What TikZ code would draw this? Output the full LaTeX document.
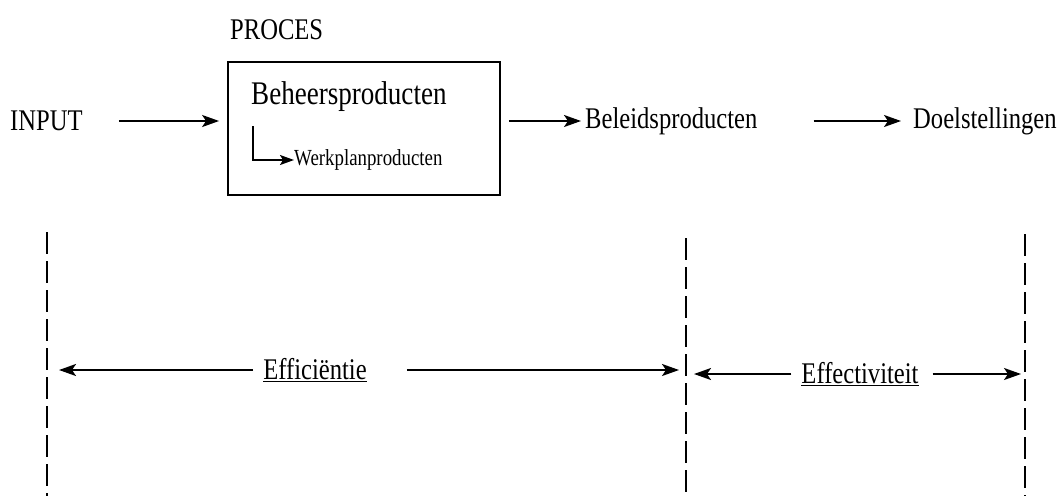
\documentclass[tikz,border=0pt]{standalone}
\usepackage{fontspec}
\setmainfont[FakeStretch=0.82]{Liberation Serif}
\usetikzlibrary{arrows.meta}
\begin{document}
\begin{tikzpicture}[x=1pt,y=-1pt,
  lbl/.style={inner sep=0pt, font=\fontsize{30}{34}\selectfont},
  big/.style={inner sep=0pt, font=\fontsize{33}{37}\selectfont},
  small/.style={inner sep=0pt, font=\fontsize{23}{26}\selectfont},
  arr/.style={line width=2pt, -{Stealth[length=17pt,width=12pt,inset=4pt]}},
  divider/.style={line width=1.4pt, dash pattern=on 22pt off 7pt}]
\useasboundingbox (0,0) rectangle (1064,496);

% top row
\node[lbl, anchor=west] (input) at (10,121) {INPUT};
\node[lbl, anchor=south west] (proces) at (230,40) {PROCES};
\node[draw, line width=1.8pt, minimum width=272pt, minimum height=133pt, inner sep=0pt] (box) at (364,128.5) {};
\node[big, anchor=west] (beheer) at (251,97) {Beheersproducten};
\node[small, anchor=west] (werkplan) at (294,160) {Werkplanproducten};
\node[lbl, anchor=west] (beleid) at (585,121) {Beleidsproducten};
\node[lbl, anchor=west] (doel) at (913,121) {Doelstellingen};

\draw[arr, shorten <=36pt, shorten >=8pt] (input.east) -- (box.west |- input.east);
\draw[arr, shorten <=8pt, shorten >=4pt] (box.east |- beleid.west) -- (beleid.west);
\draw[arr, shorten <=56pt, shorten >=12pt] (beleid.east) -- (doel.west);
\coordinate (lstart) at (253,126);
\draw[line width=1.6pt, -{Stealth[length=14pt,width=10pt,inset=3pt]}] (lstart) |- (werkplan.west);

% dividers
\coordinate (d1t) at (47,232);  \coordinate (d1b) at (47,496);
\coordinate (d2t) at (686,238); \coordinate (d2b) at (686,496);
\coordinate (d3t) at (1025,234); \coordinate (d3b) at (1025,496);
\draw[divider] (d1t) -- (d1b);
\draw[divider] (d2t) -- (d2b);
\draw[divider] (d3t) -- (d3b);

% measures
\node[lbl, anchor=center] (effic) at (315,370) {\underline{Efficiëntie}};
\node[lbl, anchor=center] (effect) at (860,374) {\underline{Effectiviteit}};
\draw[arr, shorten <=10pt, shorten >=12pt] (effic.west) -- (d1t |- effic.west);
\draw[arr, shorten <=40pt, shorten >=7pt] (effic.east) -- (d2t |- effic.east);
\draw[arr, shorten <=10pt, shorten >=8pt] (effect.west) -- (d2t |- effect.west);
\draw[arr, shorten <=14pt, shorten >=4pt] (effect.east) -- (d3t |- effect.east);
\end{tikzpicture}
\end{document}
